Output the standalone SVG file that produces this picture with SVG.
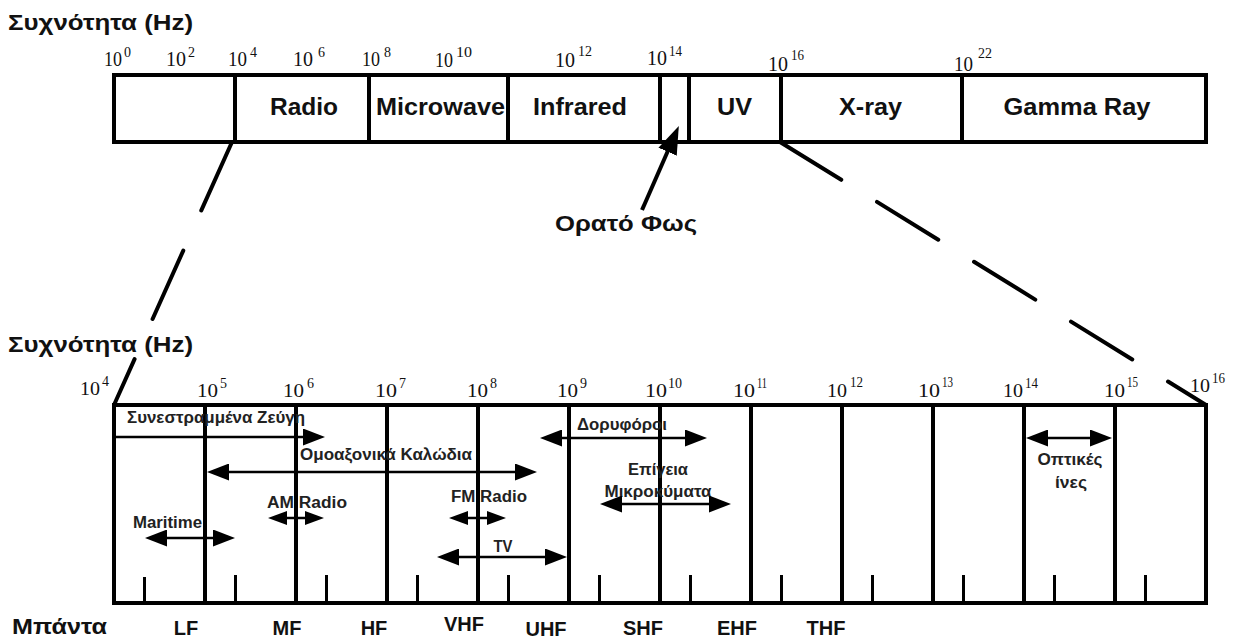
<svg xmlns="http://www.w3.org/2000/svg" width="1236" height="640" viewBox="0 0 1236 640">
<style>
.h{font-family:"Liberation Sans",Arial,sans-serif;font-weight:bold;font-size:22px;fill:#111}
.lab{font-family:"Liberation Sans",Arial,sans-serif;font-weight:bold;font-size:23px;fill:#111;text-anchor:middle}
.sm{font-family:"Liberation Sans",Arial,sans-serif;font-weight:bold;font-size:16px;fill:#222}
.smc{font-family:"Liberation Sans",Arial,sans-serif;font-weight:bold;font-size:16px;fill:#222;text-anchor:middle}
.band{font-family:"Liberation Sans",Arial,sans-serif;font-weight:bold;font-size:20px;fill:#111;text-anchor:middle}
.n{font-family:"Liberation Serif","Times New Roman",serif;font-size:22px;fill:#111}
.n2{font-family:"Liberation Serif","Times New Roman",serif;font-size:19px;fill:#111}
.s{font-family:"Liberation Serif","Times New Roman",serif;font-size:14px;fill:#111}
.box{fill:none;stroke:#000;stroke-width:4}
.div{stroke:#000;stroke-width:4}
.tick{stroke:#000;stroke-width:3}
.dash{stroke:#000;stroke-width:4;stroke-linecap:round;fill:none}
.arr{stroke:#000;stroke-width:2.5;fill:none}
</style>
<defs>
<marker id="ah" markerUnits="userSpaceOnUse" markerWidth="22" markerHeight="17" refX="12" refY="8.5" orient="auto-start-reverse" viewBox="0 0 22 17"><path d="M0,0 L22,8.5 L0,17 z" fill="#000"/></marker>
<marker id="ahs" markerUnits="userSpaceOnUse" markerWidth="19" markerHeight="14" refX="10" refY="7" orient="auto-start-reverse" viewBox="0 0 19 14"><path d="M0,0 L19,7 L0,14 z" fill="#000"/></marker>
<marker id="ahv" markerUnits="userSpaceOnUse" markerWidth="28" markerHeight="20" refX="16" refY="10" orient="auto" viewBox="0 0 28 20"><path d="M0,0 L28,10 L0,20 z" fill="#000"/></marker>
</defs>

<g id="title-top"><text class="h" x="8" y="30" font-size="23" textLength="185" lengthAdjust="spacingAndGlyphs">Συχνότητα (Hz)</text></g>

<g id="top-scale">
<text class="n" x="104" y="66" textLength="18" lengthAdjust="spacingAndGlyphs">10</text><text class="s" x="124" y="57">0</text>
<text class="n" x="166" y="66" textLength="20" lengthAdjust="spacingAndGlyphs">10</text><text class="s" x="188" y="57">2</text>
<text class="n" x="228" y="66" textLength="19" lengthAdjust="spacingAndGlyphs">10</text><text class="s" x="250" y="57">4</text>
<text class="n" x="293" y="66" textLength="20" lengthAdjust="spacingAndGlyphs">10</text><text class="s" x="318" y="57">6</text>
<text class="n" x="362" y="66" textLength="18" lengthAdjust="spacingAndGlyphs">10</text><text class="s" x="384" y="57">8</text>
<text class="n" x="435" y="67" textLength="18" lengthAdjust="spacingAndGlyphs">10</text><text class="s" x="456" y="57" textLength="16" lengthAdjust="spacingAndGlyphs">10</text>
<text class="n" x="555" y="67" textLength="20" lengthAdjust="spacingAndGlyphs">10</text><text class="s" x="578" y="56" textLength="14" lengthAdjust="spacingAndGlyphs">12</text>
<text class="n" x="647" y="65" textLength="20" lengthAdjust="spacingAndGlyphs">10</text><text class="s" x="669" y="56" textLength="13" lengthAdjust="spacingAndGlyphs">14</text>
<text class="n" x="768" y="71" textLength="20" lengthAdjust="spacingAndGlyphs">10</text><text class="s" x="791" y="60" textLength="13" lengthAdjust="spacingAndGlyphs">16</text>
<text class="n" x="954" y="71" textLength="19" lengthAdjust="spacingAndGlyphs">10</text><text class="s" x="978" y="58" textLength="14" lengthAdjust="spacingAndGlyphs">22</text>
</g>

<g id="spectrum-bar">
<rect class="box" x="114" y="75" width="1092" height="67"/>
<line class="div" x1="235" y1="75" x2="235" y2="142"/>
<line class="div" x1="369" y1="75" x2="369" y2="142"/>
<line class="div" x1="508" y1="75" x2="508" y2="142"/>
<line class="div" x1="660" y1="75" x2="660" y2="142"/>
<line class="div" x1="689" y1="75" x2="689" y2="142"/>
<line class="div" x1="781" y1="75" x2="781" y2="142"/>
<line class="div" x1="962" y1="75" x2="962" y2="142"/>
<text class="lab" x="304" y="115" textLength="68" lengthAdjust="spacingAndGlyphs">Radio</text>
<text class="lab" x="440.5" y="115" textLength="129" lengthAdjust="spacingAndGlyphs">Microwave</text>
<text class="lab" x="580" y="115" textLength="94" lengthAdjust="spacingAndGlyphs">Infrared</text>
<text class="lab" x="734.5" y="115" textLength="35" lengthAdjust="spacingAndGlyphs">UV</text>
<text class="lab" x="870.5" y="115" textLength="63" lengthAdjust="spacingAndGlyphs">X-ray</text>
<text class="lab" x="1077" y="115" textLength="147" lengthAdjust="spacingAndGlyphs">Gamma Ray</text>
</g>

<g id="visible-light">
<line x1="642" y1="210" x2="674" y2="137" stroke="#000" stroke-width="4" marker-end="url(#ahv)"/>
<text class="h" x="555" y="231" font-size="23" textLength="142" lengthAdjust="spacingAndGlyphs">Ορατό Φως</text>
</g>

<g id="connectors">
<line class="dash" x1="232" y1="142" x2="114" y2="405" stroke-dasharray="75 44"/>
<line class="dash" x1="780" y1="142" x2="1206" y2="405" stroke-dasharray="72 42"/>
</g>

<g id="title-bottom"><text class="h" x="8" y="352" font-size="23" textLength="185" lengthAdjust="spacingAndGlyphs">Συχνότητα (Hz)</text></g>

<g id="bottom-scale">
<text class="n2" x="80" y="395" textLength="20" lengthAdjust="spacingAndGlyphs">10</text><text class="s" x="102" y="386">4</text>
<text class="n2" x="197" y="397" textLength="21" lengthAdjust="spacingAndGlyphs">10</text><text class="s" x="220" y="388">5</text>
<text class="n2" x="283" y="397" textLength="21" lengthAdjust="spacingAndGlyphs">10</text><text class="s" x="307" y="388">6</text>
<text class="n2" x="375" y="397" textLength="22" lengthAdjust="spacingAndGlyphs">10</text><text class="s" x="399" y="388">7</text>
<text class="n2" x="467" y="397" textLength="21" lengthAdjust="spacingAndGlyphs">10</text><text class="s" x="490" y="388">8</text>
<text class="n2" x="557" y="397" textLength="21" lengthAdjust="spacingAndGlyphs">10</text><text class="s" x="580" y="388">9</text>
<text class="n2" x="645" y="397" textLength="22" lengthAdjust="spacingAndGlyphs">10</text><text class="s" x="668" y="388" textLength="14" lengthAdjust="spacingAndGlyphs">10</text>
<text class="n2" x="733" y="397" textLength="22" lengthAdjust="spacingAndGlyphs">10</text><text class="s" x="757" y="388" textLength="10" lengthAdjust="spacingAndGlyphs">11</text>
<text class="n2" x="827" y="397" textLength="20" lengthAdjust="spacingAndGlyphs">10</text><text class="s" x="850" y="387" textLength="13" lengthAdjust="spacingAndGlyphs">12</text>
<text class="n2" x="918" y="397" textLength="22" lengthAdjust="spacingAndGlyphs">10</text><text class="s" x="942" y="387" textLength="11" lengthAdjust="spacingAndGlyphs">13</text>
<text class="n2" x="1003" y="397" textLength="20" lengthAdjust="spacingAndGlyphs">10</text><text class="s" x="1025" y="388" textLength="13" lengthAdjust="spacingAndGlyphs">14</text>
<text class="n2" x="1104" y="397" textLength="21" lengthAdjust="spacingAndGlyphs">10</text><text class="s" x="1127" y="387" textLength="11" lengthAdjust="spacingAndGlyphs">15</text>
<text class="n2" x="1190" y="392" textLength="20" lengthAdjust="spacingAndGlyphs">10</text><text class="s" x="1212" y="383" textLength="13" lengthAdjust="spacingAndGlyphs">16</text>
</g>

<g id="band-chart">
<rect class="box" x="114" y="405" width="1092" height="198"/>
<line class="div" x1="205" y1="405" x2="205" y2="603"/>
<line class="div" x1="296" y1="405" x2="296" y2="603"/>
<line class="div" x1="387" y1="405" x2="387" y2="603"/>
<line class="div" x1="478" y1="405" x2="478" y2="603"/>
<line class="div" x1="569" y1="405" x2="569" y2="603"/>
<line class="div" x1="660" y1="405" x2="660" y2="603"/>
<line class="div" x1="751" y1="405" x2="751" y2="603"/>
<line class="div" x1="842" y1="405" x2="842" y2="603"/>
<line class="div" x1="933" y1="405" x2="933" y2="603"/>
<line class="div" x1="1024" y1="405" x2="1024" y2="603"/>
<line class="div" x1="1115" y1="405" x2="1115" y2="603"/>
<line class="tick" x1="144.5" y1="577" x2="144.5" y2="603"/>
<line class="tick" x1="235.5" y1="575" x2="235.5" y2="603"/>
<line class="tick" x1="326.5" y1="575" x2="326.5" y2="603"/>
<line class="tick" x1="417.5" y1="575" x2="417.5" y2="603"/>
<line class="tick" x1="508.5" y1="575" x2="508.5" y2="603"/>
<line class="tick" x1="599.5" y1="575" x2="599.5" y2="603"/>
<line class="tick" x1="690.5" y1="575" x2="690.5" y2="603"/>
<line class="tick" x1="781.5" y1="575" x2="781.5" y2="603"/>
<line class="tick" x1="872.5" y1="575" x2="872.5" y2="603"/>
<line class="tick" x1="963.5" y1="575" x2="963.5" y2="603"/>
<line class="tick" x1="1054.5" y1="575" x2="1054.5" y2="603"/>
<line class="tick" x1="1145.5" y1="575" x2="1145.5" y2="603"/>
</g>

<g id="twisted-pair">
<text class="sm" x="127" y="423" textLength="178" lengthAdjust="spacingAndGlyphs">Συνεστραμμένα Ζεύγη</text>
<line class="arr" x1="114" y1="437" x2="315" y2="437" marker-end="url(#ah)"/>
</g>
<g id="coax">
<text class="sm" x="300" y="460" textLength="172" lengthAdjust="spacingAndGlyphs">Ομοαξονικά Καλώδια</text>
<line class="arr" x1="217" y1="472" x2="527" y2="472" marker-start="url(#ah)" marker-end="url(#ah)"/>
</g>
<g id="satellites">
<text class="sm" x="577" y="430" textLength="90" lengthAdjust="spacingAndGlyphs">Δορυφόροι</text>
<line class="arr" x1="550" y1="438" x2="697" y2="438" marker-start="url(#ah)" marker-end="url(#ah)"/>
</g>
<g id="terrestrial-microwave">
<text class="smc" x="658" y="475" textLength="60" lengthAdjust="spacingAndGlyphs">Επίγεια</text>
<text class="smc" x="658" y="497" textLength="107" lengthAdjust="spacingAndGlyphs">Μικροκύματα</text>
<line class="arr" x1="610" y1="504" x2="721" y2="504" marker-start="url(#ah)" marker-end="url(#ah)"/>
</g>
<g id="optical-fibers">
<text class="smc" x="1070" y="465" textLength="65" lengthAdjust="spacingAndGlyphs">Οπτικές</text>
<text class="smc" x="1071" y="488" textLength="32" lengthAdjust="spacingAndGlyphs">ίνες</text>
<line class="arr" x1="1036" y1="438" x2="1102" y2="438" marker-start="url(#ah)" marker-end="url(#ah)"/>
</g>
<g id="am-radio">
<text class="sm" x="267" y="508" textLength="80" lengthAdjust="spacingAndGlyphs">AM Radio</text>
<line class="arr" x1="277" y1="518" x2="315" y2="518" marker-start="url(#ahs)" marker-end="url(#ahs)"/>
</g>
<g id="maritime">
<text class="sm" x="133" y="528" textLength="69" lengthAdjust="spacingAndGlyphs">Maritime</text>
<line class="arr" x1="155" y1="538" x2="225" y2="538" marker-start="url(#ah)" marker-end="url(#ah)"/>
</g>
<g id="fm-radio">
<text class="sm" x="451" y="502" textLength="76" lengthAdjust="spacingAndGlyphs">FM Radio</text>
<line class="arr" x1="458" y1="518" x2="497" y2="518" marker-start="url(#ahs)" marker-end="url(#ahs)"/>
</g>
<g id="tv">
<text class="smc" x="503" y="552" textLength="19" lengthAdjust="spacingAndGlyphs">TV</text>
<line class="arr" x1="447" y1="557" x2="557" y2="557" marker-start="url(#ah)" marker-end="url(#ah)"/>
</g>

<g id="bands">
<text class="h" x="12" y="634" font-size="25" textLength="95" lengthAdjust="spacingAndGlyphs">Μπάντα</text>
<text class="band" x="186" y="635">LF</text>
<text class="band" x="287" y="635">MF</text>
<text class="band" x="374" y="635">HF</text>
<text class="band" x="464" y="631">VHF</text>
<text class="band" x="546" y="636">UHF</text>
<text class="band" x="643" y="635">SHF</text>
<text class="band" x="737" y="635">EHF</text>
<text class="band" x="826" y="635">THF</text>
</g>
</svg>
